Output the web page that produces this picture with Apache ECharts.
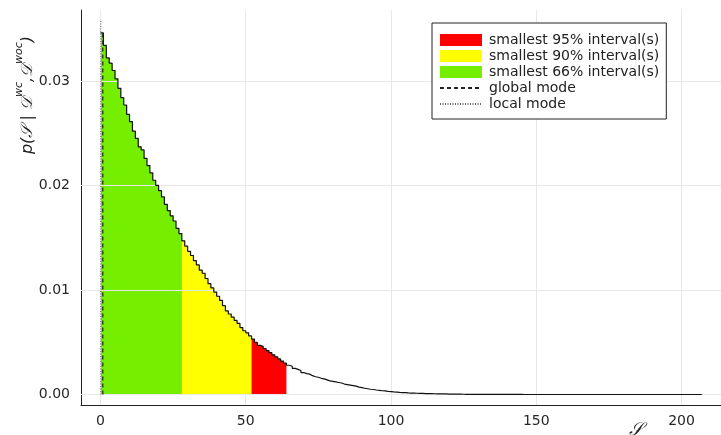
<!DOCTYPE html>
<html>
<head>
<meta charset="utf-8">
<script src="https://cdn.jsdelivr.net/npm/echarts@6/dist/echarts.min.js"></script>
<style>
  html, body { margin: 0; padding: 0; background: #fff; }
  #chart { width: 721px; height: 435px; }
</style>
</head>
<body>
<div id="chart"></div>
<script>
// posterior density per unit bin of S, bins start at S = 0, 1, 2, ...
const density = [
  0.0346, 0.0334, 0.0322, 0.0317, 0.0310, 0.0302, 0.0293, 0.0284, 0.0277, 0.0268,
  0.0261, 0.0252, 0.0245, 0.0237, 0.0234, 0.0226, 0.0219, 0.0212, 0.0205, 0.0200,
  0.0195, 0.0189, 0.0182, 0.0176, 0.0171, 0.0166, 0.0159, 0.0154, 0.0147, 0.0142,
  0.0137, 0.0133, 0.0128, 0.0124, 0.0119, 0.0116, 0.0111, 0.0106, 0.0102, 0.0098,
  0.0094, 0.0090, 0.0085, 0.0080, 0.0077, 0.0074, 0.0071, 0.0068, 0.0064, 0.0061,
  0.0059, 0.0056, 0.0053, 0.0050, 0.0047, 0.0046, 0.0044, 0.0042, 0.0040, 0.0038,
  0.0036, 0.0034, 0.0032, 0.0030, 0.0028, 0.0027, 0.0025, 0.0024, 0.0023, 0.0021,
  0.0020, 0.00195, 0.0018, 0.0017, 0.00165, 0.00155, 0.0015, 0.0014, 0.0013, 0.00125,
  0.0012, 0.00115, 0.0011, 0.0010, 0.00095, 0.0009, 0.00085, 0.0008, 0.0007, 0.00065,
  0.0006, 0.00055, 0.0005, 0.00048, 0.00043, 0.0004, 0.00036, 0.00034, 0.0003, 0.00028,
  0.00025, 0.00023, 0.0002, 0.00018, 0.00017, 0.00015, 0.00014, 0.00013, 0.00012, 0.00011,
  0.0001, 0.00009, 0.00008, 0.00008, 0.00007, 0.00006, 0.00006, 0.00005, 0.00005, 0.00004,
  0.00004, 0.000035, 0.00003, 0.00003, 0.000025, 0.00002, 0.00002, 0.00002, 0.000015, 0.000015,
  0.00001, 0.00001, 0.000008, 0.000008, 0.000007, 0.000006, 0.000006, 0.000005, 0.000005, 0.000004,
  0.000004, 0.000004, 0.000003, 0.000003, 0.000003, 0.000002, 0.000002, 0.000002, 0.000002, 0.000002,
  0.000001, 0.000001, 0.000001, 0.000001, 0.000001, 0.000001, 0.000001, 0.000001, 0.000001, 0.000001,
  0.000001, 0.000001, 0.000001, 0.000001, 0.000001, 0.000001, 0.000001, 0.000001, 0.000001, 0.000001,
  0, 0, 0, 0, 0, 0, 0, 0, 0, 0,
  0, 0, 0, 0, 0, 0, 0, 0, 0, 0,
  0, 0, 0, 0, 0, 0, 0, 0, 0, 0,
  0, 0, 0, 0, 0, 0, 0
]

// smallest intervals as [from, to] in S
const interval95 = [0, 64]
const interval90 = [0, 52]
const interval66 = [0, 28]

// modes: [S, line top]
const globalMode = [0.8, 0.0348]
const localMode = [0.1, 0.0358]

const xTicks = [0, 50, 100, 150, 200]
const yTicks = [0, 0.01, 0.02, 0.03]

const names = [
  'smallest 95% interval(s)',
  'smallest 90% interval(s)',
  'smallest 66% interval(s)',
  'global mode',
  'local mode'
]

// step points for bins lo..hi (last point closes the final bin)
function steps(lo, hi) {
  const pts = []
  for (let i = lo; i < hi; i++) pts.push([i, density[i]])
  pts.push([hi, density[hi - 1]])
  return pts
}

function areaSeries(name, iv, color, z) {
  return {
    name: name,
    type: 'line',
    step: 'end',
    data: steps(iv[0], iv[1]),
    symbol: 'none',
    color: color,
    lineStyle: { width: 0 },
    areaStyle: { color: color, opacity: 1 },
    z: z
  }
}

const gridColor = '#e8e8e8'
const gridLines = xTicks.map(v => ({ xAxis: v })).concat(yTicks.map(v => ({ yAxis: v })))

const chart = echarts.init(document.getElementById('chart'), null, { renderer: 'canvas' })
chart.setOption({
  animation: false,
  backgroundColor: '#fff',
  textStyle: { fontFamily: 'DejaVu Sans' },
  grid: { left: 81, right: 0, top: 10, bottom: 30 },
  xAxis: {
    type: 'value',
    min: -6.71,
    max: 213.6,
    axisLine: { show: true, onZero: false, lineStyle: { color: '#222', width: 1 } },
    axisTick: { show: true, inside: true, length: 5, customValues: xTicks, lineStyle: { color: '#222' } },
    axisLabel: { customValues: xTicks, fontSize: 14, color: '#262626', margin: 9, fontFamily: 'DejaVu Sans' },
    splitLine: { show: false }
  },
  yAxis: {
    type: 'value',
    min: -0.001005,
    max: 0.03679,
    axisLine: { show: true, onZero: false, lineStyle: { color: '#222', width: 1 } },
    axisTick: { show: true, inside: true, length: 5, customValues: yTicks, lineStyle: { color: '#222' } },
    axisLabel: {
      customValues: yTicks,
      fontSize: 14,
      color: '#262626',
      margin: 11,
      fontFamily: 'DejaVu Sans',
      formatter: v => v.toFixed(2)
    },
    splitLine: { show: false }
  },
  legend: {
    orient: 'vertical',
    left: 432,
    top: 23,
    z: 100,
    padding: [10, 7, 8, 7],
    itemWidth: 42,
    itemHeight: 12,
    itemGap: 2,
    borderColor: '#222',
    borderWidth: 1,
    borderRadius: 0,
    backgroundColor: '#fff',
    textStyle: { fontSize: 14, lineHeight: 14, color: '#222', fontFamily: 'DejaVu Sans', padding: [0, 0, 0, 2] },
    data: [
      { name: names[0], icon: 'rect' },
      { name: names[1], icon: 'rect' },
      { name: names[2], icon: 'rect' },
      { name: names[3], itemStyle: { opacity: 0 } },
      { name: names[4], itemStyle: { opacity: 0 } }
    ]
  },
  graphic: [
    {
      type: 'text',
      x: 25,
      y: 95,
      rotation: Math.PI / 2,
      style: {
        text: '{n|p(𝒮 | 𝒟}{s|wc}{n|,𝒟}{s|woc}{n|)}',
        align: 'center',
        verticalAlign: 'middle',
        fill: '#222',
        rich: {
          n: { fontSize: 16, fontStyle: 'italic', fontFamily: 'DejaVu Sans', lineHeight: 22, verticalAlign: 'bottom' },
          s: { fontSize: 11, fontStyle: 'italic', fontFamily: 'DejaVu Sans', lineHeight: 22, verticalAlign: 'top' }
        }
      }
    },
    {
      type: 'text',
      x: 636,
      y: 430,
      style: {
        text: '𝒮',
        align: 'center',
        verticalAlign: 'middle',
        fontSize: 18,
        fontStyle: 'italic',
        fontFamily: 'DejaVu Sans',
        fill: '#222'
      }
    }
  ],
  series: [
    {
      name: 'grid',
      type: 'line',
      data: [],
      silent: true,
      z: 1,
      markLine: {
        silent: true,
        symbol: 'none',
        label: { show: false },
        lineStyle: { color: gridColor, width: 1, type: 'solid' },
        data: gridLines
      }
    },
    areaSeries(names[0], interval95, '#ff0000', 2),
    areaSeries(names[1], interval90, '#ffff00', 3),
    areaSeries(names[2], interval66, '#76ee00', 4),
    {
      name: 'histogram',
      type: 'line',
      step: 'end',
      data: steps(0, density.length),
      symbol: 'none',
      lineStyle: { color: '#111', width: 1.2 },
      z: 6
    },
    {
      name: names[3],
      type: 'line',
      data: [[globalMode[0], 0], [globalMode[0], globalMode[1]]],
      symbol: 'none',
      color: '#222',
      lineStyle: { color: '#222', width: 1.2, type: [4, 3] },
      z: 7
    },
    {
      name: names[4],
      type: 'line',
      data: [[localMode[0], 0], [localMode[0], localMode[1]]],
      symbol: 'none',
      color: '#666',
      lineStyle: { color: '#666', width: 1, type: [1, 1.5] },
      z: 7
    }
  ]
})
</script>
</body>
</html>
